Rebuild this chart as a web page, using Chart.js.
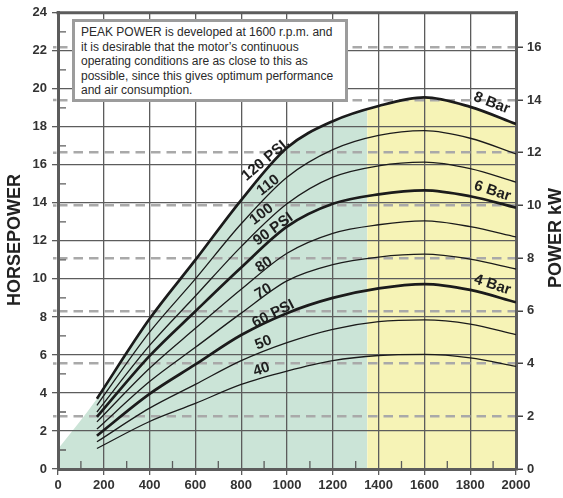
<!DOCTYPE html>
<html lang="en">
<head>
<meta charset="UTF-8">
<title>Air motor power curves</title>
<script src="https://cdn.jsdelivr.net/npm/chart.js@4.4.1/dist/chart.umd.min.js"></script>
<style>
  body { margin: 0; background: #fff; }
  #wrap { position: relative; width: 563px; height: 498px; }
  #note {
    position: absolute; left: 72px; top: 19px; width: 276px; height: 83px;
    box-sizing: border-box; border: 3px solid #9c9c9c; background: #fff;
    padding: 3px 0 0 6px;
    font: 12px "Liberation Sans", Arial, sans-serif; line-height: 14.6px; color: #2a2a2a;
  }
</style>
</head>
<body>
<div id="wrap">
  <canvas id="chart" width="563" height="498"></canvas>
  <div id="note">PEAK POWER is developed at 1600 r.p.m. and<br>it is desirable that the motor’s continuous<br>operating conditions are as close to this as<br>possible, since this gives optimum performance<br>and air consumption.</div>
</div>
<script>
// speed (r.p.m.) and horsepower for each inlet pressure
const rpm = [170, 400, 600, 800, 1000, 1200, 1400, 1600, 1800, 2000];
const psi120 = [3.7, 7.9, 11.0, 14.15, 16.9, 18.3, 19.1, 19.55, 19.05, 18.15];
const psi110 = [3.35, 7.2, 10.0, 12.9, 15.35, 16.8, 17.55, 17.8, 17.4, 16.58];
const psi100 = [3.0, 6.5, 9.1, 11.7, 13.95, 15.35, 15.95, 16.14, 15.8, 15.09];
const psi90 = [2.74, 5.95, 8.3, 10.6, 12.75, 13.95, 14.45, 14.66, 14.35, 13.75];
const psi80 = [2.48, 5.3, 7.4, 9.45, 11.35, 12.4, 12.85, 13.05, 12.75, 12.21];
const psi70 = [2.1, 4.6, 6.4, 8.2, 9.9, 10.75, 11.15, 11.3, 11.04, 10.52];
const psi60 = [1.75, 3.95, 5.5, 7.05, 8.2, 9.0, 9.5, 9.73, 9.42, 8.77];
const psi50 = [1.43, 3.2, 4.45, 5.7, 6.65, 7.35, 7.75, 7.84, 7.62, 7.07];
const psi40 = [1.08, 2.5, 3.45, 4.45, 5.15, 5.7, 5.97, 6.03, 5.85, 5.4];

// shaded operating zone under the 120 PSI curve
const zoneStartHp = 1.05;     // hp at 0 r.p.m.
const zoneSplitRpm = 1350;    // green -> yellow
const zoneSplitHp = 18.95;

const curveLabels = [
  ['120 PSI.', 908, 16.28, -40],
  ['110', 918, 14.93, -38],
  ['100', 889, 13.4, -37],
  ['90 PSI', 940, 12.61, -36],
  ['80', 900, 10.74, -33],
  ['70', 897, 9.34, -30],
  ['60 PSI', 940, 8.16, -27],
  ['50', 897, 6.64, -22],
  ['40', 889, 5.24, -18],
  ['8 Bar', 1894, 19.25, 21],
  ['6 Bar', 1897, 14.62, 18],
  ['4 Bar', 1897, 9.69, 18]
];

const FONT = '"Liberation Sans", Arial, sans-serif';
const GRID = '#5c5c5c';
const DASH = '#a9a9a9';
const GREEN = '#cbe4d7';
const YELLOW = '#f6f3b6';

const pts = vals => rpm.map((r, i) => ({x: r, y: vals[i]}));

// fill outline: start point, then the 120 PSI curve with the split point added
const zonePts = [{x: 0, y: zoneStartHp}];
rpm.forEach((r, i) => {
  if (r > zoneSplitRpm && zonePts[zonePts.length - 1].x < zoneSplitRpm) zonePts.push({x: zoneSplitRpm, y: zoneSplitHp});
  zonePts.push({x: r, y: psi120[i]});
});

function curve(vals, thick) {
  return {
    data: pts(vals), borderColor: '#1b1b1b', borderWidth: thick ? 2.7 : 1.3,
    pointRadius: 0, fill: false, cubicInterpolationMode: 'monotone'
  };
}

const decor = {
  id: 'decor',
  beforeDatasetsDraw(chart) {
    const {ctx, chartArea: a, scales: {x, y, y2}} = chart;
    ctx.save();
    ctx.strokeStyle = GRID;
    ctx.lineWidth = 1.3;
    ctx.beginPath();
    for (let v = 1; v < 24; v += 2) {
      const py = y.getPixelForValue(v);
      ctx.moveTo(a.left, py); ctx.lineTo(a.left + 8, py);
    }
    for (let v = 100; v < 2000; v += 200) {
      const px = x.getPixelForValue(v);
      ctx.moveTo(px, a.bottom); ctx.lineTo(px, a.bottom - 8);
    }
    ctx.stroke();
    // kW dashes poke out a little left of the frame
    ctx.strokeStyle = DASH;
    ctx.lineWidth = 2.5;
    ctx.beginPath();
    for (let v = 2; v <= 16; v += 2) {
      const py = y2.getPixelForValue(v);
      ctx.moveTo(a.left - 5, py); ctx.lineTo(a.left - 1.5, py);
    }
    ctx.stroke();
    ctx.restore();
  },
  afterDatasetsDraw(chart) {
    const {ctx, chartArea: a, scales: {x, y}} = chart;
    ctx.save();
    // top border
    ctx.strokeStyle = GRID;
    ctx.lineWidth = 3;
    ctx.beginPath();
    ctx.moveTo(a.left - 1.5, a.top); ctx.lineTo(a.right + 1.5, a.top);
    ctx.stroke();

    ctx.fillStyle = '#1e1e1e';
    ctx.font = 'bold 15px ' + FONT;
    ctx.textAlign = 'center';
    ctx.textBaseline = 'middle';
    curveLabels.forEach(([txt, r, hp, ang]) => {
      ctx.save();
      ctx.translate(x.getPixelForValue(r), y.getPixelForValue(hp));
      ctx.rotate(ang * Math.PI / 180);
      ctx.fillText(txt, 0, 0);
      ctx.restore();
    });

    // axis titles
    ctx.font = 'bold 18px ' + FONT;
    ctx.fillStyle = '#222';
    ctx.save();
    ctx.translate(15, 240);
    ctx.rotate(-Math.PI / 2);
    ctx.fillText('HORSEPOWER', 0, 0);
    ctx.restore();
    ctx.save();
    ctx.translate(556, 238);
    ctx.rotate(-Math.PI / 2);
    ctx.fillText('POWER kW', 0, 0);
    ctx.restore();
    ctx.restore();
  }
};

const tickFont = {family: FONT, size: 13, weight: 'bold'};

new Chart(document.getElementById('chart'), {
  type: 'line',
  data: {
    datasets: [
      {
        data: zonePts, borderWidth: 0, borderColor: 'transparent', pointRadius: 0,
        backgroundColor: GREEN, fill: 'origin', cubicInterpolationMode: 'monotone',
        segment: {backgroundColor: c => c.p0.parsed.x >= zoneSplitRpm ? YELLOW : GREEN}
      },
      curve(psi40, false),
      curve(psi50, false),
      curve(psi60, true),
      curve(psi70, false),
      curve(psi80, false),
      curve(psi90, true),
      curve(psi100, false),
      curve(psi110, false),
      curve(psi120, true)
    ]
  },
  options: {
    responsive: false,
    animation: false,
    layout: {padding: {top: 11, left: 0, right: 0, bottom: 0}},
    plugins: {
      legend: {display: false},
      tooltip: {enabled: false},
      filler: {drawTime: 'beforeDraw'}
    },
    scales: {
      x: {
        type: 'linear', min: 0, max: 2000,
        afterFit: s => { s.height = 29; },
        ticks: {stepSize: 200, font: tickFont, color: '#333', padding: 3, maxRotation: 0,
          callback: v => String(v)},
        grid: {color: GRID, lineWidth: 1.3, tickLength: 6, tickColor: GRID},
        border: {color: GRID, width: 3}
      },
      y: {
        position: 'left', min: 0, max: 24,
        afterFit: s => { s.width = 58; },
        ticks: {stepSize: 2, font: tickFont, color: '#333', padding: 5},
        grid: {color: GRID, lineWidth: 1.3, tickLength: 6, tickColor: GRID},
        border: {color: GRID, width: 3}
      },
      y2: {
        position: 'right', min: 0, max: 17.31,
        afterFit: s => { s.width = 47; },
        ticks: {stepSize: 2, includeBounds: false, font: tickFont, color: '#333', padding: 4},
        grid: {
          color: c => c.tick && c.tick.value === 0 ? 'rgba(0,0,0,0)' : DASH,
          lineWidth: 2.5, tickLength: 7, tickColor: '#444', tickWidth: 1.5
        },
        border: {color: GRID, width: 3, dash: [9.5, 6]}
      }
    }
  },
  plugins: [decor]
});
</script>
</body>
</html>
